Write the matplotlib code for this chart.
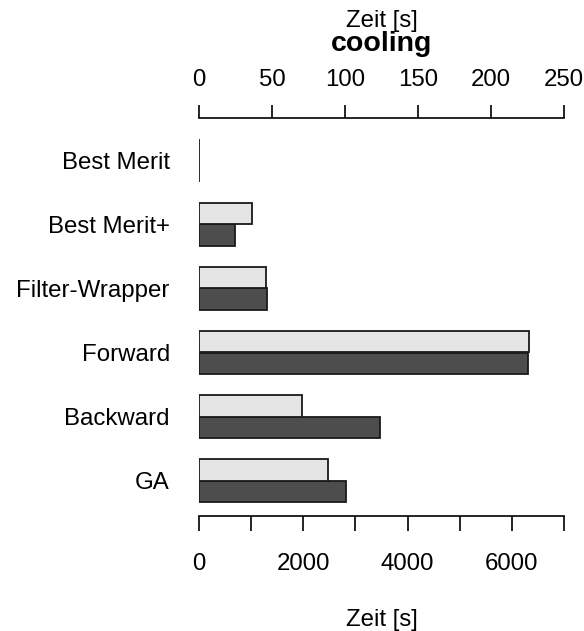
import matplotlib
matplotlib.use("Agg")
import matplotlib.pyplot as plt
import numpy as np

plt.rcParams['font.family'] = ['Liberation Sans', 'DejaVu Sans']

categories = ["Best Merit", "Best Merit+", "Filter-Wrapper", "Forward", "Backward", "GA"]
# light bars read against the top axis (0-250 s)
time_top = [0, 36.0, 45.7, 226.0, 70.5, 88.4]
# dark bars read against the bottom axis (0-7000 s)
time_bottom = [0, 698, 1312, 6311, 3469, 2811]
top_ticks = [0, 50, 100, 150, 200, 250]
bottom_ticks = [0, 1000, 2000, 3000, 4000, 5000, 6000, 7000]
bottom_labels = ["0", "", "2000", "", "4000", "", "6000", ""]

W, H = 584, 631
fig = plt.figure(figsize=(W / 100, H / 100), dpi=100)

x0, x1 = 199, 564
y_top, y_bot = 118, 516
ax = fig.add_axes([x0 / W, (H - y_bot) / H, (x1 - x0) / W, (y_bot - y_top) / H])
ax_top = ax.twiny()

light = "#e5e5e5"
dark = "#4d4d4d"
edge = "#1a1a1a"

n = len(categories)
light_pos = np.arange(n) * 3 + 0.5
dark_pos = np.arange(n) * 3 + 1.5

ax_top.barh(light_pos, time_top, height=1.0, color=light, edgecolor=edge, linewidth=1.3)
ax.barh(dark_pos, time_bottom, height=1.0, color=dark, edgecolor=edge, linewidth=1.3)

unit = 21.35
ax.set_ylim((y_bot - 139) / unit, -(139 - y_top) / unit)
ax.set_xlim(0, 7000)
ax_top.set_xlim(0, 250)

for a in (ax, ax_top):
    for s in ("left", "right"):
        a.spines[s].set_visible(False)
ax.spines["top"].set_visible(False)
ax_top.spines["bottom"].set_visible(False)
ax.spines["bottom"].set_linewidth(1.2)
ax_top.spines["top"].set_linewidth(1.2)

ax.set_xticks(bottom_ticks)
ax.set_xticklabels(bottom_labels)
ax.tick_params(axis="x", direction="out", length=10.5, width=1.2, pad=16, labelsize=17.3)

ax_top.set_xticks(top_ticks)
ax_top.set_xticklabels([str(t) for t in top_ticks])
ax_top.tick_params(axis="x", direction="out", length=9.5, width=1.2, pad=10, labelsize=17.3)

ax.set_yticks(np.arange(n) * 3 + 1.0)
ax.set_yticklabels(categories)
ax.tick_params(axis="y", length=0, pad=21, labelsize=17.3)

cx = (x0 + x1) / 2 / W
fig.text(cx, 1 - 21 / H, "Zeit [s]", ha="center", va="center", fontsize=17.3)
fig.text(cx, 1 - 44 / H, "cooling", ha="center", va="center", fontsize=20.5, fontweight="bold")
fig.text(cx, 1 - 620 / H, "Zeit [s]", ha="center", va="center", fontsize=17.3)

fig.savefig("out.png", dpi=100)
